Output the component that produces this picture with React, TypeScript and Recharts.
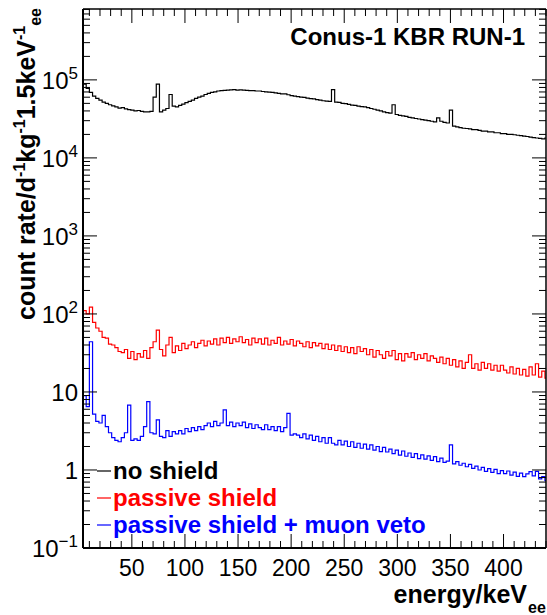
import React from 'react';
import { ComposedChart, Line, XAxis, YAxis } from 'recharts';

// ---------- data ----------
// histogram binning (keV): first bin lower edge and bin width
const binStart = 4;
const binWidth = 3;

// count rate per bin
const noShield = [
  88000, 78000, 69000, 62000, 58000, 55000, 52000, 50000, 48000, 46500,
  45000, 43500, 44000, 42500, 41500, 41000, 40000, 40500, 39500, 39000,
  39000, 39500, 60000, 88000, 39000, 41000, 43000, 65000, 46000, 45000,
  47000, 49000, 51000, 53000, 55000, 58000, 60000, 62000, 65000, 67000,
  69000, 70000, 72000, 73000, 73500, 74000, 74500, 75000, 74000, 74500,
  74000, 73500, 73000, 73000, 72000, 72000, 71000, 70000, 69500, 69000,
  68000, 67000, 66000, 66000, 64500, 63000, 62000, 61000, 60000, 59500,
  58500, 57500, 57000, 56000, 55000, 54000, 53500, 53000, 75000, 52000,
  51500, 50000, 49500, 48500, 47500, 47000, 46000, 45500, 45000, 44000,
  43000, 42000, 41000, 40000, 39000, 38000, 37500, 48000, 36000, 35000,
  34500, 34000, 33000, 32500, 32000, 31500, 31000, 30500, 30000, 29500,
  29000, 32500, 29500, 28500, 28000, 41000, 25500, 25000, 24500, 24000,
  23800, 23500, 23000, 23000, 22500, 22000, 22000, 21500, 21500, 21000,
  21000, 20500, 20500, 20000, 20000, 19800, 19500, 19300, 19000, 18800,
  18500, 18200, 18000, 17800, 17500, 18000,
];

const passiveShield = [
  110, 100, 122, 78, 66, 60, 50, 49, 41, 40,
  37, 33, 32, 35, 27, 33, 26, 31, 28, 34,
  27, 37, 44, 62, 35, 29, 40, 50, 32, 39,
  34, 42, 36, 40, 44, 37, 42, 46, 39, 45,
  41, 48, 40, 49, 43, 50, 42, 48, 44, 51,
  43, 47, 40, 49, 43, 48, 41, 49, 40, 46,
  42, 50, 40, 45, 41, 47, 39, 45, 42, 38,
  44, 37, 43, 39, 42, 36, 41, 35, 40, 34,
  39, 33, 38, 32, 37, 31, 38, 33, 36, 30,
  35, 28, 34, 30, 27, 33, 29, 34, 26, 31,
  25, 31, 28, 32, 26, 30, 27, 31, 25, 29,
  27, 24, 28, 23, 27, 22, 26, 21, 25, 20,
  24, 30, 20, 23, 19, 24, 20, 23, 19, 22,
  18.5, 22, 19, 17.5, 21, 17, 20, 16.5, 19.5, 16,
  21, 16.5, 23, 15.5, 18.5, 15,
];

const muonVeto = [
  9, 6.5, 44, 5.2, 4.2, 4.0, 5.0, 3.6, 3.0, 2.6,
  2.4, 2.3, 2.6, 3.0, 6.8, 2.4, 2.5, 2.4, 2.7, 3.6,
  7.5, 3.0, 2.9, 4.4, 2.7, 2.6, 3.2, 2.7, 3.1, 2.9,
  3.2, 2.9, 3.4, 3.1, 3.5, 3.2, 3.6, 3.3, 3.7, 4.0,
  3.6, 4.2, 3.7, 4.0, 5.9, 3.7, 4.1, 3.6, 4.0, 3.7,
  4.1, 3.5, 3.9, 3.4, 3.8, 3.5, 3.3, 3.8, 3.3, 3.6,
  3.2, 3.6, 3.1, 3.5, 5.3, 2.8, 2.9, 2.8, 2.6, 2.9,
  2.5, 2.8, 2.4, 2.7, 2.3, 2.6, 2.2, 2.6, 2.2, 2.1,
  2.4, 2.1, 2.35, 2.0, 2.3, 1.95, 2.2, 1.9, 2.15, 1.85,
  2.1, 1.8, 2.0, 1.72, 1.95, 1.7, 1.85, 1.62, 1.8, 1.55,
  1.75, 1.5, 1.65, 1.45, 1.62, 1.4, 1.56, 1.38, 1.52, 1.33,
  1.48, 1.28, 1.42, 1.25, 1.3, 2.1, 1.2, 1.28, 1.15, 1.22,
  1.1, 1.18, 1.05, 1.12, 1.0, 1.08, 0.96, 1.04, 0.93, 1.02,
  0.9, 0.98, 0.9, 0.97, 0.86, 0.94, 0.83, 0.91, 0.82, 0.89,
  0.95, 0.84, 0.96, 0.77, 0.82, 0.73,
];

const xDomain = [4, 440];
const yDomain = [0.1, 810000];

const xMajorTicks = [50, 100, 150, 200, 250, 300, 350, 400];
const xMinorTicks = [10, 20, 30, 40, 60, 70, 80, 90, 110, 120, 130, 140, 160, 170, 180, 190,
  210, 220, 230, 240, 260, 270, 280, 290, 310, 320, 330, 340, 360, 370, 380, 390, 410, 420, 430, 440];

const yMajorTicks = [0.1, 1, 10, 100, 1000, 10000, 100000];
const yMajorLabels = [['10', '\u22121'], ['1', ''], ['10', ''], ['10', '2'], ['10', '3'], ['10', '4'], ['10', '5']];
const yMinorTicks = [
  0.2, 0.3, 0.4, 0.5, 0.6, 0.7, 0.8, 0.9,
  2, 3, 4, 5, 6, 7, 8, 9,
  20, 30, 40, 50, 60, 70, 80, 90,
  200, 300, 400, 500, 600, 700, 800, 900,
  2000, 3000, 4000, 5000, 6000, 7000, 8000, 9000,
  20000, 30000, 40000, 50000, 60000, 70000, 80000, 90000,
  200000, 300000, 400000, 500000, 600000, 700000, 800000,
];

const seriesNames = ['no shield', 'passive shield', 'passive shield + muon veto'];
const seriesColors = ['#000000', '#ff0000', '#0000ff'];

// ---------- layout ----------
const W = 547;
const H = 615;
const M = { top: 9, right: 1, left: 0, bottom: 0 };
const Y_AXIS_W = 83;
const X_AXIS_H = 67;
const PLOT = { left: M.left + Y_AXIS_W, right: W - M.right, top: M.top, bottom: H - M.bottom - X_AXIS_H };
const FONT = '"Liberation Sans", Arial, Helvetica, sans-serif';

function toSteps(values: number[]) {
  const rows: { x: number; v: number }[] = [{ x: binStart, v: yDomain[0] }];
  values.forEach((v, i) => rows.push({ x: binStart + i * binWidth, v }));
  rows.push({ x: binStart + values.length * binWidth, v: values[values.length - 1] });
  return rows;
}

const seriesData = [toSteps(noShield), toSteps(passiveShield), toSteps(muonVeto)];

const XTick = (props: any) => {
  const { x, payload } = props;
  const val = payload.value;
  const major = xMajorTicks.includes(val);
  const len = major ? 14 : 7;
  return (
    <g>
      <line x1={x} x2={x} y1={PLOT.bottom} y2={PLOT.bottom - len} stroke="#000" strokeWidth={1} />
      <line x1={x} x2={x} y1={PLOT.top} y2={PLOT.top + len} stroke="#000" strokeWidth={1} />
      {major && (
        <text x={x} y={576} textAnchor="middle" fontSize={23} fontFamily={FONT} fill="#000">
          {val}
        </text>
      )}
    </g>
  );
};

const YTick = (props: any) => {
  const { y, payload } = props;
  const val = payload.value;
  const idx = yMajorTicks.findIndex((t) => Math.abs(t - val) / t < 1e-6);
  const major = idx >= 0;
  const len = major ? 14 : 7;
  return (
    <g>
      <line x1={PLOT.left} x2={PLOT.left + len} y1={y} y2={y} stroke="#000" strokeWidth={1} />
      <line x1={PLOT.right} x2={PLOT.right - len} y1={y} y2={y} stroke="#000" strokeWidth={1} />
      {major && (
        <text x={78} y={y + 9} textAnchor="end" fontSize={24} fontFamily={FONT} fill="#000">
          {yMajorLabels[idx][0]}
          {yMajorLabels[idx][1] && (
            <tspan dy={-10} fontSize={17}>
              {yMajorLabels[idx][1]}
            </tspan>
          )}
        </text>
      )}
    </g>
  );
};

export default function App() {
  return (
    <div style={{ position: 'absolute', left: 0, top: 0, width: W, height: H, background: '#fff' }}>
      <ComposedChart width={W} height={H} margin={M}>
        <XAxis
          type="number"
          dataKey="x"
          domain={xDomain}
          allowDataOverflow
          ticks={[...xMinorTicks, ...xMajorTicks].sort((a, b) => a - b)}
          interval={0}
          tick={<XTick />}
          tickLine={false}
          axisLine={{ stroke: '#000', strokeWidth: 2 }}
          height={X_AXIS_H}
        />
        <YAxis
          type="number"
          scale="log"
          domain={yDomain}
          allowDataOverflow
          ticks={[...yMinorTicks, ...yMajorTicks].sort((a, b) => a - b)}
          interval={0}
          tick={<YTick />}
          tickLine={false}
          axisLine={{ stroke: '#000', strokeWidth: 2 }}
          width={Y_AXIS_W}
        />
        {seriesData.map((d, i) => (
          <Line
            key={seriesNames[i]}
            data={d}
            dataKey="v"
            type="stepAfter"
            stroke={seriesColors[i]}
            strokeWidth={1.2}
            dot={false}
            activeDot={false}
            isAnimationActive={false}
          />
        ))}
      </ComposedChart>
      <svg
        width={W}
        height={H}
        style={{ position: 'absolute', left: 0, top: 0, pointerEvents: 'none' }}
        fontFamily={FONT}
      >
        {/* frame top and right */}
        <line x1={PLOT.left} x2={PLOT.right} y1={PLOT.top} y2={PLOT.top} stroke="#000" strokeWidth={1.5} />
        <line x1={PLOT.right} x2={PLOT.right} y1={PLOT.top} y2={PLOT.bottom} stroke="#000" strokeWidth={1.5} />
        {/* title */}
        <text x={525} y={45} textAnchor="end" fontSize={24} fontWeight="bold" fill="#000">
          Conus-1 KBR RUN-1
        </text>
        {/* y title */}
        <text transform="rotate(-90)" x={-8} y={35} textAnchor="end" fontSize={25} fontWeight="bold" fill="#000">
          count rate/d
          <tspan dy={-10} fontSize={16}>-1</tspan>
          <tspan dy={10}>kg</tspan>
          <tspan dy={-10} fontSize={16}>-1</tspan>
          <tspan dy={10}>1.5keV</tspan>
          <tspan dy={-10} fontSize={16}>-1</tspan>
          <tspan dy={16} fontSize={16}>ee</tspan>
        </text>
        {/* x title */}
        <text x={527} y={603} textAnchor="end" fontSize={25} fontWeight="bold" fill="#000">
          energy/keV
        </text>
        <text x={528} y={613} fontSize={16} fontWeight="bold" fill="#000">
          ee
        </text>
        {/* legend */}
        {seriesNames.map((n, i) => (
          <g key={n}>
            <line x1={97} x2={111} y1={471 + i * 27} y2={471 + i * 27} stroke={seriesColors[i]} strokeWidth={1.2} />
            <text x={113} y={479 + i * 27} fontSize={24} fontWeight="bold" fill={seriesColors[i]}>
              {n}
            </text>
          </g>
        ))}
      </svg>
    </div>
  );
}
